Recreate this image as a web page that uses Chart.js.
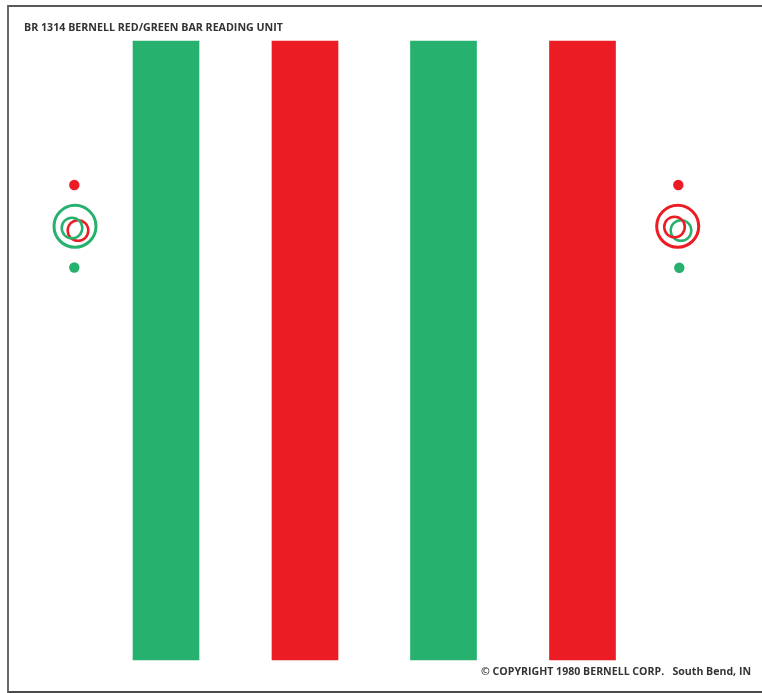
<!DOCTYPE html>
<html>
<head>
<meta charset="utf-8">
<script src="https://cdn.jsdelivr.net/npm/chart.js@4"></script>
<style>
  body { margin: 0; background: #fff; }
  #wrap { position: relative; width: 762px; height: 693px; overflow: hidden; }
  #frame {
    position: absolute; left: 7px; top: 5px; width: 760px; height: 684px;
    border-top: 2px solid #585858; border-left: 2px solid #6a6a6a; border-bottom: 3px solid #4a4a4a;
  }
  canvas { position: absolute; left: 0; top: 0; }
  .label {
    position: absolute; white-space: nowrap; color: #333;
    font-family: "Open Sans", sans-serif; font-weight: 700; font-size: 10.5px;
    line-height: 1; transform-origin: 0 0;
  }
</style>
</head>
<body>
<div id="wrap">
  <canvas id="card" width="762" height="693"></canvas>
  <div id="frame"></div>
  <div class="label" id="title" data-w="259" style="left:24px; top:22px;">BR 1314 BERNELL RED/GREEN BAR READING UNIT</div>
  <div class="label" id="copy" data-w="270" style="left:481px; top:666px;">© COPYRIGHT 1980 BERNELL CORP.&nbsp;&nbsp; South Bend, IN</div>
</div>
<script>
// card coordinates (x across, y down from top edge)
const barNames = ['Green 1', 'Red 1', 'Green 2', 'Red 2'];
const barCenters = [166, 305, 443.5, 582.5];
const barTops = [41, 41, 41, 41];
const barBottoms = [660, 660, 660, 660];

// fixation dots
const redDotX = [74.3, 678.3];
const redDotY = [185, 185];
const greenDotX = [74.3, 679.3];
const greenDotY = [267.5, 267.7];

// left target: big green ring, small green ring, small red ring
const leftRingX = [75, 72, 78];
const leftRingY = [226.3, 228, 230.5];
// right target: big red ring, small red ring, small green ring
const rightRingX = [677.7, 674.5, 681];
const rightRingY = [226.3, 227, 230.5];

const GREEN = '#27b16f';
const RED = '#ec1c24';

function pts(xs, ys) {
  return xs.map((x, i) => ({ x: x, y: ys[i] }));
}

function ring(x, y, color, r, w) {
  return {
    type: 'line', showLine: false, clip: false,
    data: [{ x: x, y: y }],
    pointRadius: r, pointHoverRadius: r,
    pointBorderWidth: w, pointHoverBorderWidth: w,
    pointBackgroundColor: 'rgba(0,0,0,0)',
    pointBorderColor: color
  };
}

function dots(xs, ys, color) {
  return {
    type: 'line', showLine: false, clip: false,
    data: pts(xs, ys),
    pointRadius: 5.2, pointBorderWidth: 0,
    pointBackgroundColor: color, pointBorderColor: color
  };
}

new Chart(document.getElementById('card'), {
  type: 'bar',
  data: {
    datasets: [
      {
        label: 'bars',
        data: barCenters.map((x, i) => ({ x: x, y: [barTops[i], barBottoms[i]], name: barNames[i] })),
        backgroundColor: [GREEN, RED, GREEN, RED],
        borderWidth: 0,
        barThickness: 66,
        grouped: false
      },
      dots(redDotX, redDotY, RED),
      dots(greenDotX, greenDotY, GREEN),
      ring(leftRingX[0], leftRingY[0], GREEN, 21, 3),
      ring(leftRingX[1], leftRingY[1], GREEN, 10.3, 2.5),
      ring(leftRingX[2], leftRingY[2], RED, 10.3, 2.5),
      ring(rightRingX[0], rightRingY[0], RED, 21, 3),
      ring(rightRingX[1], rightRingY[1], RED, 10.3, 2.5),
      ring(rightRingX[2], rightRingY[2], GREEN, 10.3, 2.5)
    ]
  },
  options: {
    responsive: false,
    animation: false,
    layout: { padding: 0, autoPadding: false },
    scales: {
      x: { type: 'linear', min: 0, max: 762, offset: false, display: false },
      y: { type: 'linear', min: 0, max: 693, reverse: true, offset: false, display: false }
    },
    plugins: { legend: { display: false }, tooltip: { enabled: false } },
    events: []
  }
});

// fit the two captions to their measured widths
document.querySelectorAll('.label').forEach(el => {
  const w = el.getBoundingClientRect().width;
  el.style.transform = 'scaleX(' + (el.dataset.w / w) + ')';
});
</script>
</body>
</html>
